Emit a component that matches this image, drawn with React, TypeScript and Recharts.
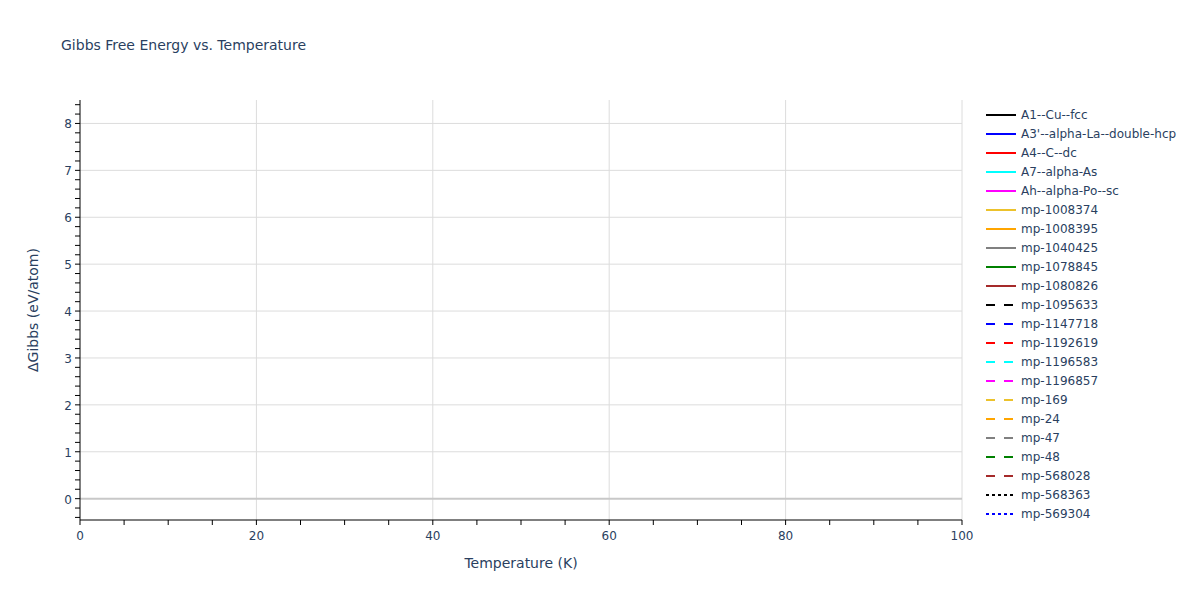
import { LineChart, Line, XAxis, YAxis, CartesianGrid, ReferenceLine, Label } from 'recharts';

// temperature grid (K) — every series in this plot has no finite values
const temperatures = [0, 100];

const seriesNames = [
  'A1--Cu--fcc', "A3'--alpha-La--double-hcp", 'A4--C--dc', 'A7--alpha-As', 'Ah--alpha-Po--sc',
  'mp-1008374', 'mp-1008395', 'mp-1040425', 'mp-1078845', 'mp-1080826',
  'mp-1095633', 'mp-1147718', 'mp-1192619', 'mp-1196583', 'mp-1196857',
  'mp-169', 'mp-24', 'mp-47', 'mp-48', 'mp-568028',
  'mp-568363', 'mp-569304',
];

const seriesColors = [
  '#000000', '#0000ff', '#ff0000', '#00ffff', '#ff00ff',
  '#ecc22c', '#ffa500', '#808080', '#008000', '#a52a2a',
  '#000000', '#0000ff', '#ff0000', '#00ffff', '#ff00ff',
  '#ecc22c', '#ffa500', '#808080', '#008000', '#a52a2a',
  '#000000', '#0000ff',
];

const seriesDash = [
  '', '', '', '', '', '', '', '', '', '',
  '9 9', '9 9', '9 9', '9 9', '9 9', '9 9', '9 9', '9 9', '9 9', '9 9',
  '3 3', '3 3',
];

// ΔGibbs values (eV/atom) per series, one per temperature — none plotted
const seriesValues: (number | null)[][] = seriesNames.map(() => [null, null]);

const xMajorTicks = [0, 20, 40, 60, 80, 100];
const yMajorTicks = [0, 1, 2, 3, 4, 5, 6, 7, 8];

const xTicks: number[] = [];
for (let t = 0; t <= 100; t += 5) xTicks.push(t);
const yTicks: number[] = [];
for (let i = -2; i <= 42; i++) yTicks.push(Math.round(i * 0.2 * 10) / 10);

const data = temperatures.map((t, i) => {
  const row: Record<string, number | null> = { t };
  seriesNames.forEach((name, s) => {
    row[name] = seriesValues[s][i];
  });
  return row;
});

const textColor = '#2a3f5f';
const font = '"DejaVu Sans", Verdana, sans-serif';

const XTick = (props: any) => {
  const { x, y, payload } = props;
  if (!xMajorTicks.includes(payload.value)) return null;
  return (
    <text x={x} y={y} dy={12} textAnchor="middle" fontSize={12} fill={textColor} fontFamily={font}>
      {payload.value}
    </text>
  );
};

const YTick = (props: any) => {
  const { x, y, payload } = props;
  if (!yMajorTicks.includes(payload.value)) return null;
  return (
    <text x={x} y={y} dy={5} textAnchor="end" fontSize={12} fill={textColor} fontFamily={font}>
      {payload.value}
    </text>
  );
};

const LegendBox = () => (
  <svg width={210} height={430} style={{ position: 'absolute', left: 980, top: 105 }}>
    {seriesNames.map((name, i) => (
      <g key={name} transform={`translate(0, ${i * 19})`}>
        <line x1={6} x2={36} y1={10} y2={10} stroke={seriesColors[i]} strokeWidth={2}
          strokeDasharray={seriesDash[i] || undefined} />
        <text x={41} y={14} fontSize={12} fill={textColor} fontFamily={font}>{name}</text>
      </g>
    ))}
  </svg>
);

export default function App() {
  return (
    <div style={{ position: 'absolute', left: 0, top: 0, width: 1200, height: 600, background: '#fff' }}>
      <div style={{ position: 'absolute', left: 61, top: 37, fontSize: 14, color: textColor, fontFamily: font }}>
        Gibbs Free Energy vs. Temperature
      </div>
      <LineChart width={1200} height={600} data={data} margin={{ top: 100, right: 238, bottom: 0, left: 0 }}>
        <CartesianGrid stroke="#dcdcdc" strokeWidth={1}
          horizontalValues={yMajorTicks.filter((v) => v !== 0)}
          verticalValues={xMajorTicks.filter((v) => v !== 0)} />
        <XAxis dataKey="t" type="number" domain={[0, 100]} ticks={xTicks} interval={0}
          height={80} tick={<XTick />} tickSize={5} tickMargin={3}
          axisLine={{ stroke: '#000', strokeWidth: 1 }} tickLine={{ stroke: '#000' }}>
          <Label value="Temperature (K)" position="insideBottom" offset={32}
            style={{ fontSize: 14, fill: textColor, fontFamily: font }} />
        </XAxis>
        <YAxis type="number" domain={[-0.455, 8.5]} ticks={yTicks} interval={0} allowDataOverflow
          width={80} tick={<YTick />} tickSize={5} tickMargin={3}
          axisLine={{ stroke: '#000', strokeWidth: 1 }} tickLine={{ stroke: '#000' }}>
          <Label value="ΔGibbs (eV/atom)" angle={-90} position="insideLeft" offset={33}
            style={{ fontSize: 14, fill: textColor, fontFamily: font, textAnchor: 'middle' }} />
        </YAxis>
        <ReferenceLine y={0} stroke="#c8c8c8" strokeWidth={2} />
        {seriesNames.map((name, i) => (
          <Line key={name} dataKey={name} type="linear" stroke={seriesColors[i]} strokeWidth={2}
            strokeDasharray={seriesDash[i] || undefined} dot={false} connectNulls={false}
            isAnimationActive={false} />
        ))}
      </LineChart>
      <LegendBox />
    </div>
  );
}
